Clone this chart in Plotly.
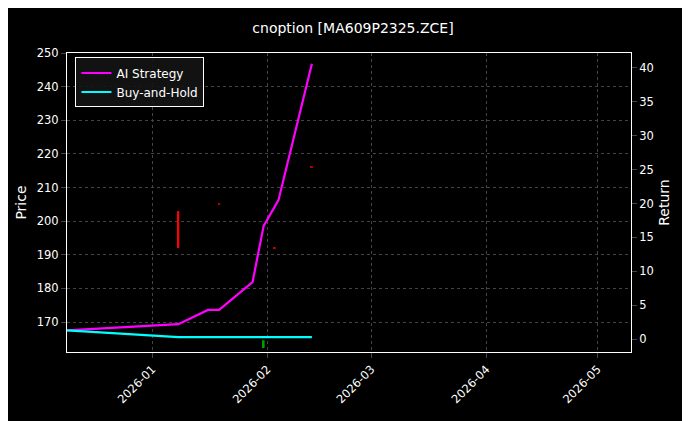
import plotly.graph_objects as go

c_dates = ["2026-01-08", "2026-01-19", "2026-01-31", "2026-02-03", "2026-02-13"]
c_open = [203, 205.3, 162.3, 192.3, 216.3]
c_close = [192, 205, 164.6, 192, 216]
c_colors = ["#ff0000", "#c00000", "#00a000", "#c00000", "#c00000"]

s_dates = ["2025-12-09", "2026-01-08", "2026-01-16", "2026-01-19", "2026-01-28",
           "2026-01-31", "2026-02-04", "2026-02-13"]
ai_ret = [1.3, 2.2, 4.3, 4.3, 8.4, 16.7, 20.5, 40.6]
bh_ret = [1.3, 0.3, 0.3, 0.3, 0.3, 0.3, 0.3, 0.3]

lows = [min(o, c) for o, c in zip(c_open, c_close)]
spans = [abs(o - c) for o, c in zip(c_open, c_close)]

fig = go.Figure()
fig.add_trace(go.Bar(x=c_dates, y=spans, base=lows, width=0.5 * 86400000,
                     marker=dict(color=c_colors, line=dict(width=0)),
                     showlegend=False, hoverinfo="skip"))
fig.add_trace(go.Scatter(x=s_dates, y=ai_ret, yaxis="y2", mode="lines", name="AI Strategy",
                         line=dict(color="#ff00ff", width=2.2)))
fig.add_trace(go.Scatter(x=s_dates, y=bh_ret, yaxis="y2", mode="lines", name="Buy-and-Hold",
                         line=dict(color="#00ffff", width=2.2)))

grid = dict(showgrid=True, gridcolor="#444", griddash="dot", gridwidth=0.6)
fig.update_layout(
    width=690, height=421, paper_bgcolor="black", plot_bgcolor="black",
    font=dict(family="DejaVu Sans", color="white", size=11.5),
    title=dict(text="cnoption [MA609P2325.ZCE]", x=0.5, xanchor="center", y=0.965, font=dict(size=14)),
    margin=dict(l=59, r=67, t=45, b=77, autoexpand=False),
    xaxis=dict(type="date", range=["2025-12-09", "2026-05-10"], automargin=False,
               tickvals=["2026-01-01", "2026-02-01", "2026-03-01", "2026-04-01", "2026-05-01"],
               ticktext=["2026-01", "2026-02", "2026-03", "2026-04", "2026-05"],
               tickangle=-45, ticks="outside", showline=True, linecolor="white", mirror=True, **grid),
    yaxis=dict(title=dict(text="Price", standoff=6), range=[161.1, 250], dtick=10, ticks="outside",
               automargin=False, showline=True, linecolor="white", mirror=True, **grid),
    yaxis2=dict(title=dict(text="Return", standoff=6), overlaying="y", side="right", range=[-1.9, 42.2],
                dtick=5, ticks="outside", showgrid=False, zeroline=False, automargin=False),
    legend=dict(x=0.015, y=0.985, xanchor="left", yanchor="top", bgcolor="rgba(20,20,20,0.9)",
                bordercolor="white", borderwidth=1, font=dict(size=12)),
)
fig.write_html("out.html")
